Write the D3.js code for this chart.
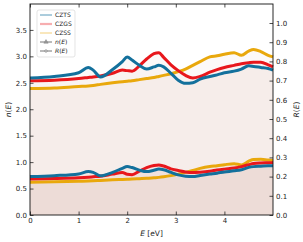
<!DOCTYPE html>
<html>
<head>
<meta charset="utf-8">
<script src="https://cdn.jsdelivr.net/npm/d3@7"></script>
<style>
  body { margin: 0; background: #fff; }
  svg text { font-family: "DejaVu Sans", sans-serif; fill: #222; }
</style>
</head>
<body>
<svg id="chart" width="303" height="242"></svg>
<script>
// photon energy grid [eV]
const energy = [0, 0.5, 1.0, 1.2, 1.3, 1.45, 1.7, 1.9, 2.0, 2.1, 2.25, 2.4, 2.55, 2.65, 2.75,
                2.9, 3.05, 3.2, 3.35, 3.5, 3.7, 3.85, 4.0, 4.2, 4.35, 4.5, 4.6, 4.75, 4.9, 5.0];

// refractive index n(E)
const nCZTS = [2.59, 2.62, 2.69, 2.79, 2.74, 2.61, 2.75, 2.90, 2.99, 2.93, 2.83, 2.76, 2.80, 2.83, 2.80,
               2.68, 2.55, 2.49, 2.50, 2.57, 2.62, 2.65, 2.69, 2.72, 2.76, 2.82, 2.81, 2.79, 2.77, 2.74];
const nCZGS = [2.54, 2.55, 2.58, 2.60, 2.61, 2.63, 2.68, 2.74, 2.73, 2.72, 2.82, 2.95, 3.05, 3.07, 2.98,
               2.84, 2.73, 2.64, 2.59, 2.62, 2.70, 2.75, 2.79, 2.83, 2.86, 2.88, 2.89, 2.89, 2.84, 2.80];
const nCZSS = [2.39, 2.40, 2.43, 2.44, 2.45, 2.47, 2.50, 2.52, 2.53, 2.54, 2.56, 2.58, 2.60, 2.62, 2.64,
               2.67, 2.71, 2.76, 2.83, 2.90, 2.99, 3.01, 3.04, 3.07, 3.02, 3.10, 3.13, 3.09, 3.02, 2.99];

// reflectivity R(E)
const rCZTS = [0.200, 0.205, 0.214, 0.226, 0.222, 0.204, 0.222, 0.243, 0.252, 0.247, 0.234, 0.226, 0.233, 0.239, 0.236,
               0.222, 0.209, 0.202, 0.200, 0.206, 0.213, 0.218, 0.224, 0.230, 0.236, 0.248, 0.252, 0.254, 0.256, 0.256];
const rCZGS = [0.188, 0.190, 0.194, 0.197, 0.199, 0.202, 0.213, 0.221, 0.212, 0.210, 0.228, 0.247, 0.258, 0.261, 0.255,
               0.240, 0.232, 0.224, 0.221, 0.223, 0.228, 0.234, 0.239, 0.245, 0.252, 0.262, 0.268, 0.271, 0.272, 0.273];
const rCZSS = [0.171, 0.173, 0.176, 0.177, 0.178, 0.180, 0.183, 0.185, 0.186, 0.187, 0.189, 0.191, 0.194, 0.196, 0.199,
               0.205, 0.213, 0.222, 0.232, 0.243, 0.253, 0.257, 0.262, 0.267, 0.261, 0.280, 0.289, 0.290, 0.286, 0.284];

const materials = ["CZTS", "CZGS", "CZSS"];
const colors = { CZTS: "#13709c", CZGS: "#e8171c", CZSS: "#e9a80c" };
const nData = { CZTS: nCZTS, CZGS: nCZGS, CZSS: nCZSS };
const rData = { CZTS: rCZTS, CZGS: rCZGS, CZSS: rCZSS };

const xTicks = [0, 1, 2, 3, 4];
const nTicks = [0, 0.5, 1.0, 1.5, 2.0, 2.5, 3.0, 3.5];
const rTicks = [0, 0.1, 0.2, 0.3, 0.4, 0.5, 0.6, 0.7, 0.8, 0.9, 1.0];

const svg = d3.select("#chart");
const margin = { top: 4, right: 30, bottom: 27, left: 30 };
const width = +svg.attr("width") - margin.left - margin.right;
const height = +svg.attr("height") - margin.top - margin.bottom;

const g = svg.append("g").attr("transform", `translate(${margin.left},${margin.top})`);

const x = d3.scaleLinear().domain([0, 5]).range([0, width]);
const yN = d3.scaleLinear().domain([0, 3.99]).range([height, 0]);
const yR = d3.scaleLinear().domain([0, 1.099]).range([height, 0]);

const fillColor = "rgba(160,80,70,0.035)";

function pts(vals) { return energy.map((e, i) => [e, vals[i]]); }

// shaded areas under every curve
materials.forEach(m => {
    g.append("path")
        .attr("d", d3.area().x(d => x(d[0])).y0(height).y1(d => yN(d[1])).curve(d3.curveMonotoneX)(pts(nData[m])))
        .attr("fill", fillColor);
    g.append("path")
        .attr("d", d3.area().x(d => x(d[0])).y0(height).y1(d => yR(d[1])).curve(d3.curveMonotoneX)(pts(rData[m])))
        .attr("fill", fillColor);
});

// curves
const lineN = d3.line().x(d => x(d[0])).y(d => yN(d[1])).curve(d3.curveMonotoneX);
const lineR = d3.line().x(d => x(d[0])).y(d => yR(d[1])).curve(d3.curveMonotoneX);

materials.slice().reverse().forEach(m => {
    g.append("path").attr("d", lineN(pts(nData[m])))
        .attr("fill", "none").attr("stroke", colors[m]).attr("stroke-width", 3);
    g.append("path").attr("d", lineR(pts(rData[m])))
        .attr("fill", "none").attr("stroke", colors[m]).attr("stroke-width", 3);
});

// axes (ticks pointing inward)
const fmt1 = d3.format(".1f");
g.append("g").attr("transform", `translate(0,${height})`)
    .call(d3.axisBottom(x).tickValues(xTicks).tickSizeInner(-3.5).tickSizeOuter(0).tickPadding(3).tickFormat(d3.format("d")));
g.append("g")
    .call(d3.axisTop(x).tickValues(xTicks).tickSizeInner(-3.5).tickSizeOuter(0).tickFormat(""));
g.append("g")
    .call(d3.axisLeft(yN).tickValues(nTicks).tickSizeInner(-3.5).tickSizeOuter(0).tickPadding(3).tickFormat(fmt1));
g.append("g").attr("transform", `translate(${width},0)`)
    .call(d3.axisRight(yR).tickValues(rTicks).tickSizeInner(-3.5).tickSizeOuter(0).tickPadding(3).tickFormat(fmt1));

g.selectAll(".tick text").attr("font-size", 7).attr("fill", "#222");
g.selectAll(".tick line").attr("stroke", "#222").attr("stroke-width", 0.8);
g.selectAll(".domain").remove();

g.append("rect").attr("width", width).attr("height", height)
    .attr("fill", "none").attr("stroke", "#111").attr("stroke-width", 0.9);

// axis labels
svg.append("text")
    .attr("x", margin.left + width / 2).attr("y", 236)
    .attr("text-anchor", "middle").attr("font-size", 7.5)
    .html('<tspan font-style="italic">E</tspan> [eV]');
svg.append("text")
    .attr("transform", `translate(11,${margin.top + height / 2}) rotate(-90)`)
    .attr("text-anchor", "middle").attr("font-size", 7.5)
    .html('<tspan font-style="italic">n</tspan>(<tspan font-style="italic">E</tspan>)');
svg.append("text")
    .attr("transform", `translate(299,${margin.top + height / 2}) rotate(-90)`)
    .attr("text-anchor", "middle").attr("font-size", 7.5)
    .html('<tspan font-style="italic">R</tspan>(<tspan font-style="italic">E</tspan>)');

// legend
const legend = svg.append("g").attr("transform", "translate(37,10)");
legend.append("rect").attr("width", 38).attr("height", 47).attr("rx", 2)
    .attr("fill", "rgba(255,255,255,0.85)").attr("stroke", "#d8d8d8").attr("stroke-width", 0.7);

const legendItems = [
    { label: "CZTS", color: colors.CZTS, opacity: 0.7, marker: null },
    { label: "CZGS", color: colors.CZGS, opacity: 0.35, width: 2.2, marker: null },
    { label: "CZSS", color: colors.CZSS, opacity: 0.55, marker: null },
    { label: "n(E)", color: "#777", opacity: 1, marker: "triangle" },
    { label: "R(E)", color: "#777", opacity: 1, marker: "circle" }
];

legendItems.forEach((d, i) => {
    const yy = 5 + i * 9;
    legend.append("line").attr("x1", 3).attr("x2", 15).attr("y1", yy).attr("y2", yy)
        .attr("stroke", d.color).attr("stroke-opacity", d.opacity).attr("stroke-width", d.width || 1);
    if (d.marker === "triangle") {
        legend.append("path").attr("d", d3.symbol(d3.symbolTriangle, 8)())
            .attr("transform", `translate(9,${yy})`).attr("fill", "#999").attr("stroke", "#777").attr("stroke-width", 0.4);
    } else if (d.marker === "circle") {
        legend.append("circle").attr("cx", 9).attr("cy", yy).attr("r", 1.3)
            .attr("fill", "#ccc").attr("stroke", "#777").attr("stroke-width", 0.5);
    }
    const t = legend.append("text").attr("x", 18).attr("y", yy + 2).attr("font-size", 6);
    if (d.marker) {
        t.html(`<tspan font-style="italic">${d.label[0]}</tspan>(<tspan font-style="italic">E</tspan>)`);
    } else {
        t.text(d.label);
    }
});
</script>
</body>
</html>
